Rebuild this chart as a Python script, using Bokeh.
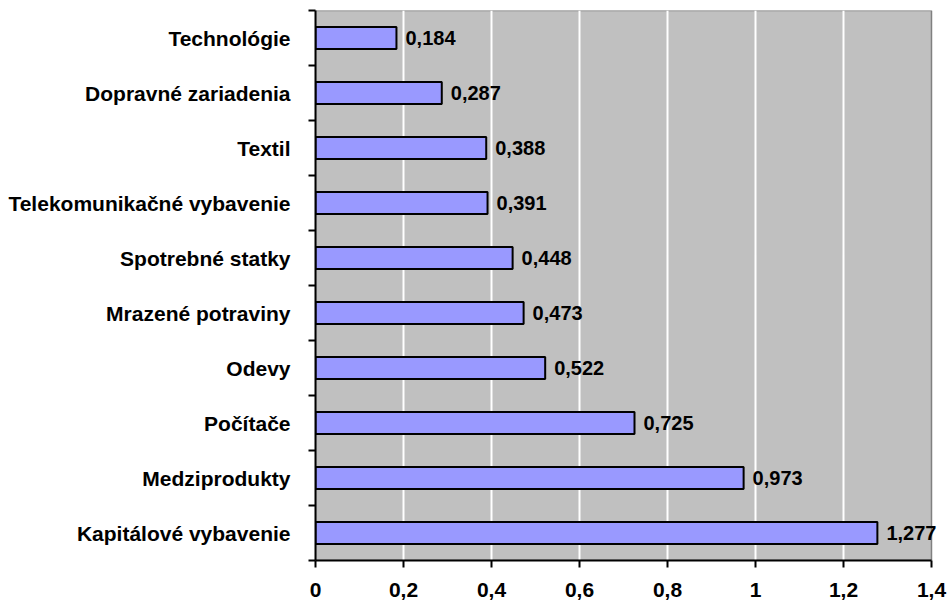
from bokeh.plotting import figure
from bokeh.models import Range1d, FixedTicker, LabelSet, ColumnDataSource
from bokeh.core.properties import value
from bokeh.embed import file_html
from bokeh.resources import INLINE

# Data (top to bottom as in the chart)
categories = ["Technológie", "Dopravné zariadenia", "Textil", "Telekomunikačné vybavenie",
              "Spotrebné statky", "Mrazené potraviny", "Odevy", "Počítače",
              "Medziprodukty", "Kapitálové vybavenie"]
values = [0.184, 0.287, 0.388, 0.391, 0.448, 0.473, 0.522, 0.725, 0.973, 1.277]
x_ticks = [0, 0.2, 0.4, 0.6, 0.8, 1.0, 1.2, 1.4]
x_tick_labels = ["0", "0,2", "0,4", "0,6", "0,8", "1", "1,2", "1,4"]
x_max = 1.4

cats = list(reversed(categories))
vals = list(reversed(values))
ypos = list(range(len(cats)))
labels = [f"{v:.3f}".replace(".", ",") for v in vals]

src = ColumnDataSource(dict(y=ypos, x=vals, lab=labels))

FONT = "Liberation Sans"

# frame extends past the plot area so the last value label is not clipped
W, H = 950, 608
left_px, right_px = 315, 931
x_end = x_max * (W - left_px) / (right_px - left_px)

p = figure(width=W, height=H, output_backend="svg", toolbar_location=None,
           x_range=Range1d(0, x_end), y_range=Range1d(-0.5, len(cats) - 0.5),
           min_border_left=left_px, min_border_right=0, min_border_top=10, min_border_bottom=48)
p.background_fill_color = "white"
p.border_fill_color = "white"
p.outline_line_color = None

# plot area background
p.quad(left=0, right=x_max, bottom=-0.5, top=len(cats) - 0.5, level="image",
       fill_color="#C0C0C0", line_color="#808080", line_width=1.5)

p.hbar(y="y", right="x", left=0, height=0.4, source=src,
       fill_color="#9999FF", line_color="black", line_width=2)

p.add_layout(LabelSet(x="x", y="y", text="lab", source=src, x_offset=9,
                      text_baseline="middle", text_font=value(FONT), text_font_style="bold",
                      text_font_size="20px", text_color="black"))

# x axis
p.xaxis.ticker = FixedTicker(ticks=x_ticks)
p.xaxis.bounds = (0, x_max)
p.xaxis.major_label_overrides = {t: l for t, l in zip(x_ticks, x_tick_labels)}
p.xaxis.axis_line_width = 2
p.xaxis.axis_line_color = "black"
p.xaxis.major_tick_in = 0
p.xaxis.major_tick_out = 7
p.xaxis.major_tick_line_width = 2
p.xaxis.major_tick_line_color = "black"
p.xaxis.minor_tick_line_color = None
p.xaxis.major_label_text_font = FONT
p.xaxis.major_label_text_font_style = "bold"
p.xaxis.major_label_text_font_size = "21px"
p.xaxis.major_label_text_color = "black"
p.xaxis.major_label_standoff = 15

# y axis
p.yaxis.ticker = FixedTicker(ticks=ypos, minor_ticks=[i - 0.5 for i in range(len(cats) + 1)])
p.yaxis.major_label_overrides = {i: c for i, c in zip(ypos, cats)}
p.yaxis.axis_line_width = 2
p.yaxis.axis_line_color = "black"
p.yaxis.major_tick_in = 0
p.yaxis.major_tick_out = 0
p.yaxis.minor_tick_in = 0
p.yaxis.minor_tick_out = 7
p.yaxis.minor_tick_line_width = 2
p.yaxis.minor_tick_line_color = "black"
p.yaxis.major_label_text_font = FONT
p.yaxis.major_label_text_font_style = "bold"
p.yaxis.major_label_text_font_size = "21px"
p.yaxis.major_label_text_color = "black"
p.yaxis.major_label_standoff = 18

p.xgrid.ticker = FixedTicker(ticks=x_ticks[1:-1])
p.xgrid.grid_line_color = "white"
p.xgrid.grid_line_width = 2
p.ygrid.grid_line_color = None

open("out.html", "w").write(file_html(p, INLINE))
